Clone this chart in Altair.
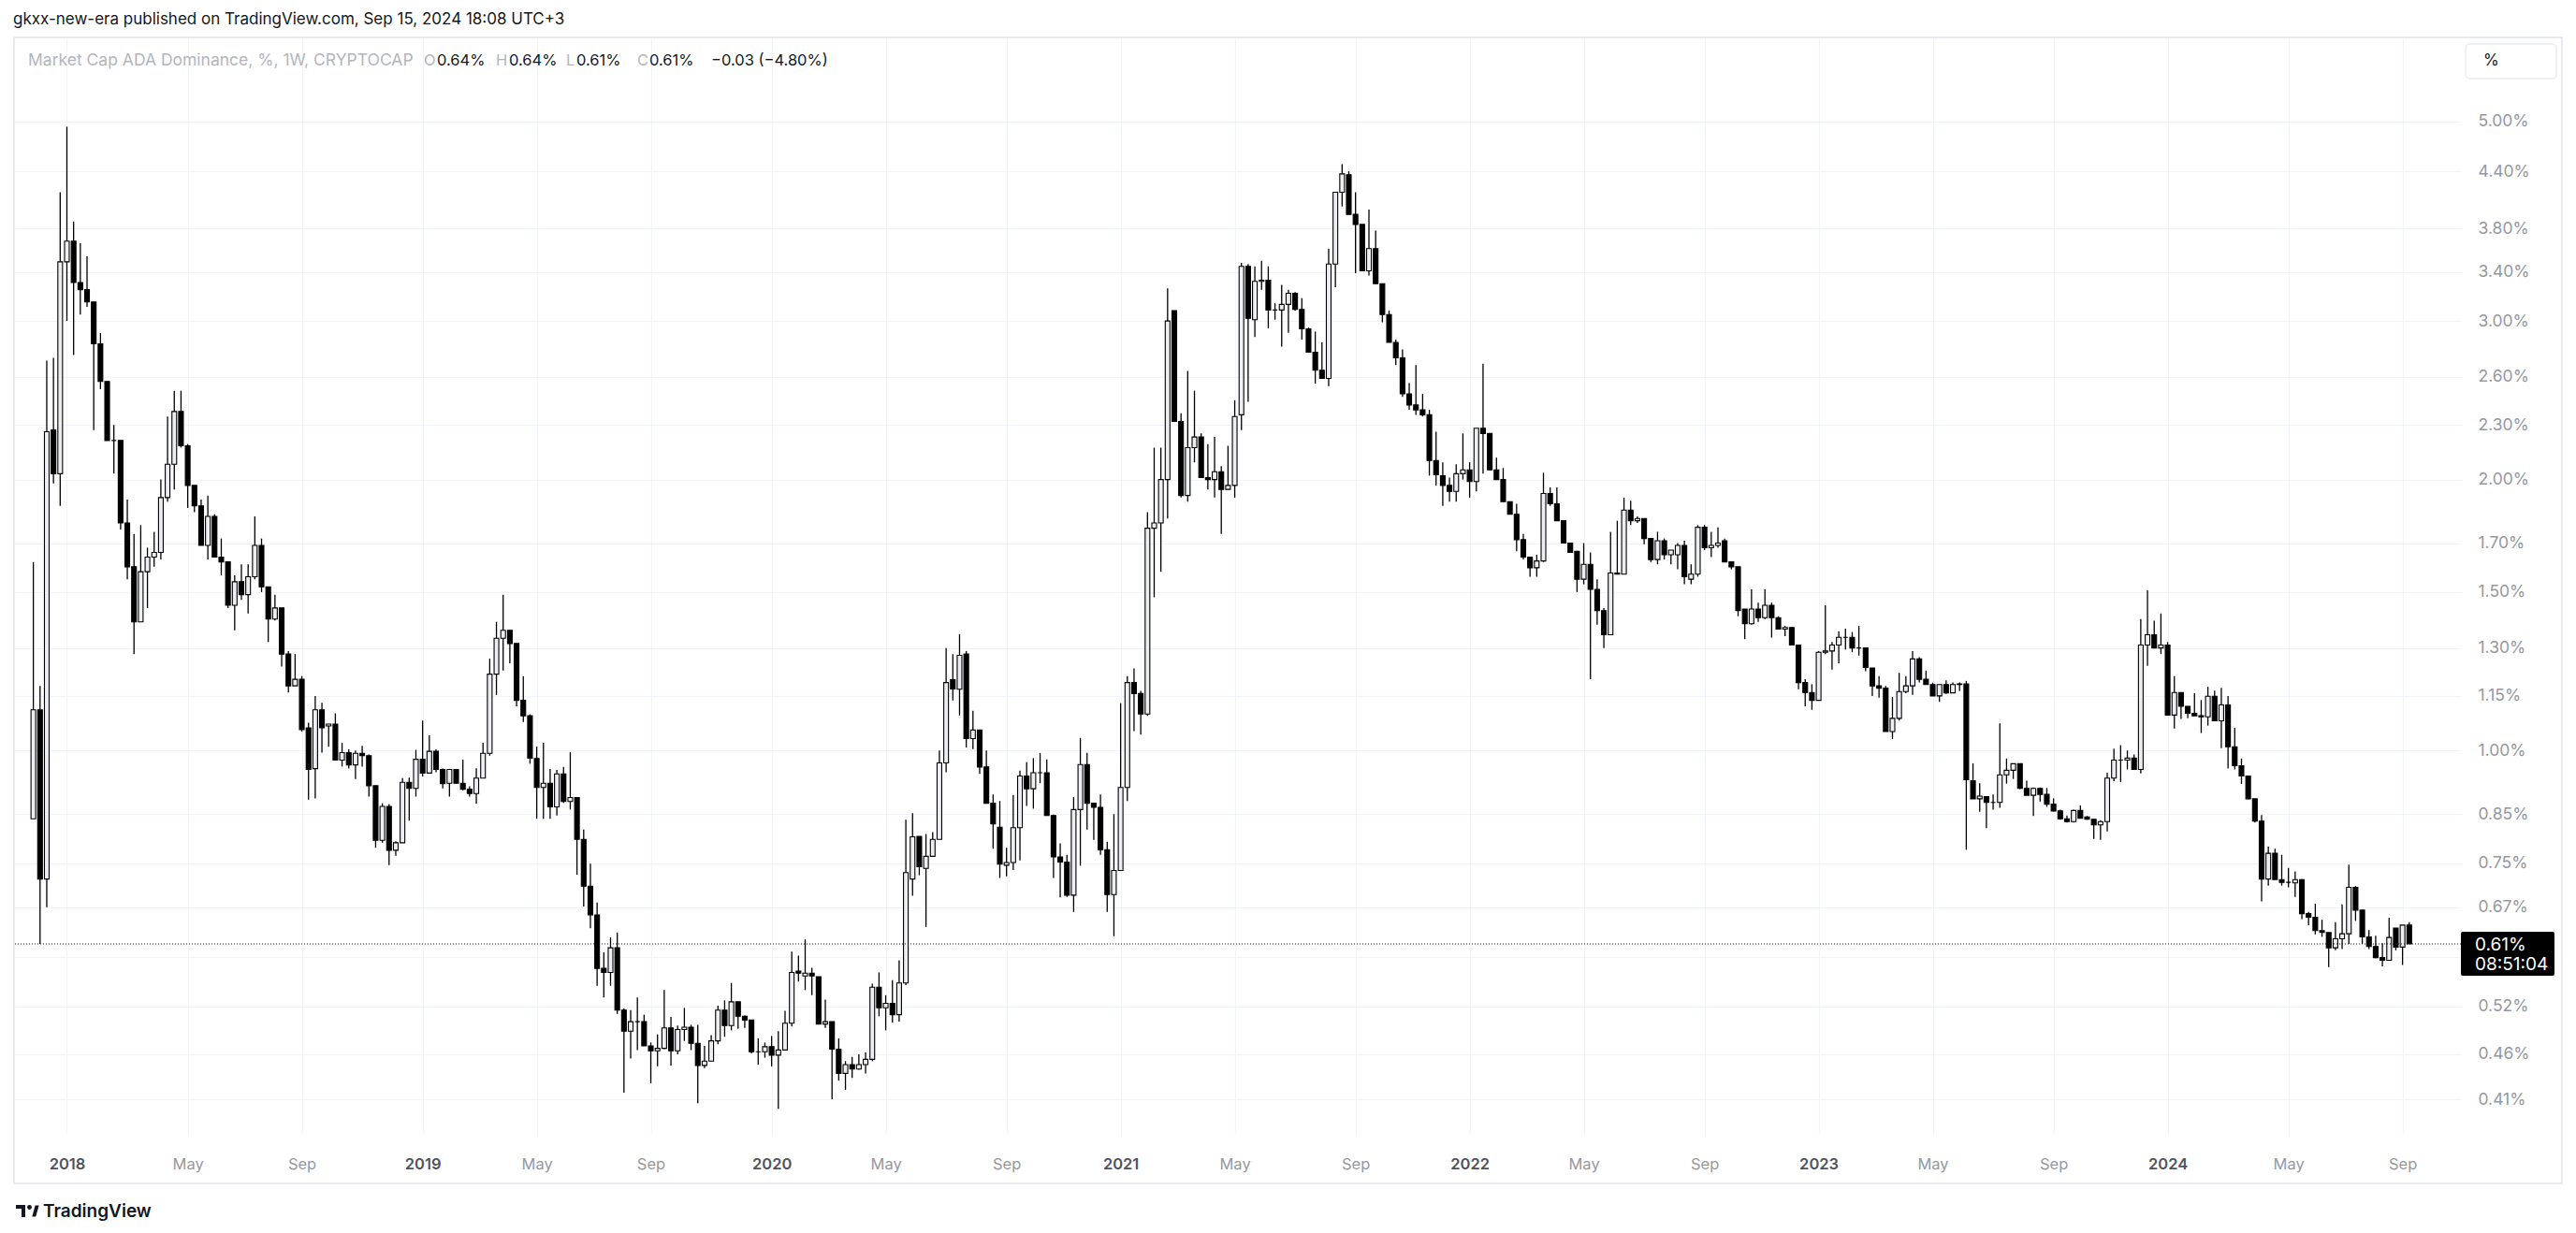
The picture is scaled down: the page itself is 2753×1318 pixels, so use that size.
import json
import altair as alt
import pandas as pd

# Weekly candles of "Market Cap ADA Dominance, %" (CRYPTOCAP), first week = 2017-11-27
OPEN = [
    0.84, 1.11, 0.72, 2.27, 2.03, 3.49, 3.68, 3.31, 3.25, 3.15,
    2.83, 2.57, 2.21, 2.21, 1.79, 1.60, 1.39, 1.58, 1.64, 1.66,
    1.91, 2.08, 2.38, 2.18, 1.97, 1.87, 1.69, 1.82, 1.64, 1.62,
    1.45, 1.54, 1.49, 1.56, 1.69, 1.52, 1.40, 1.44, 1.28, 1.18,
    1.20, 1.06, 0.955, 1.11, 1.065, 1.07, 0.976, 0.995, 0.964, 0.993,
    0.987, 0.914, 0.795, 0.867, 0.775, 0.79, 0.922, 0.908, 0.978, 0.944,
    0.998, 0.953, 0.92, 0.953, 0.92, 0.906, 0.896, 0.932, 0.993, 1.216,
    1.333, 1.36, 1.315, 1.137, 1.093, 0.98, 0.91, 0.92, 0.866, 0.942,
    0.878, 0.887, 0.797, 0.707, 0.657, 0.573, 0.567, 0.604, 0.515, 0.488,
    0.50, 0.50, 0.47, 0.464, 0.467, 0.492, 0.464, 0.49, 0.493, 0.473,
    0.447, 0.452, 0.476, 0.515, 0.495, 0.526, 0.507, 0.502, 0.463, 0.463,
    0.469, 0.459, 0.465, 0.498, 0.569, 0.562, 0.566, 0.561, 0.497, 0.50,
    0.466, 0.438, 0.448, 0.443, 0.448, 0.454, 0.546, 0.518, 0.524, 0.509,
    0.552, 0.72, 0.803, 0.74, 0.763, 0.797, 0.969, 1.199, 1.17, 1.28,
    1.031, 1.054, 0.959, 0.874, 0.822, 0.746, 0.751, 0.821, 0.937, 0.907,
    0.945, 0.945, 0.847, 0.762, 0.752, 0.691, 0.86, 0.965, 0.874, 0.865,
    0.776, 0.692, 0.736, 0.91, 1.19, 1.157, 1.098, 1.766, 1.79, 2.0,
    3.08, 2.32, 1.92, 2.17, 2.23, 2.01, 2.0, 2.04, 1.95, 1.97,
    2.36, 3.45, 3.01, 3.32, 3.33, 3.085, 3.085, 3.13, 3.22, 3.09,
    2.94, 2.77, 2.645, 2.59, 3.47, 4.17, 4.36, 3.94, 3.84, 3.41,
    3.61, 3.30, 3.05, 2.84, 2.73, 2.49, 2.42, 2.39, 2.36, 2.10,
    2.02, 1.97, 1.94, 2.03, 2.05, 1.99, 2.28, 2.25, 2.05, 2.0,
    1.89, 1.83, 1.715, 1.64, 1.596, 1.624, 1.93, 1.88, 1.80, 1.70,
    1.665, 1.55, 1.61, 1.51, 1.43, 1.345, 1.575, 1.57, 1.85, 1.80,
    1.81, 1.72, 1.63, 1.71, 1.65, 1.65, 1.69, 1.55, 1.57, 1.77,
    1.68, 1.69, 1.71, 1.62, 1.60, 1.436, 1.383, 1.436, 1.405, 1.45,
    1.405, 1.364, 1.37, 1.31, 1.19, 1.16, 1.137, 1.286, 1.29, 1.31,
    1.336, 1.336, 1.30, 1.30, 1.235, 1.18, 1.173, 1.05, 1.086, 1.163,
    1.18, 1.264, 1.20, 1.184, 1.15, 1.184, 1.159, 1.186, 1.186, 0.926,
    0.884, 0.889, 0.876, 0.876, 0.94, 0.951, 0.967, 0.908, 0.892, 0.908,
    0.894, 0.872, 0.857, 0.84, 0.834, 0.858, 0.844, 0.839, 0.827, 0.834,
    0.932, 0.976, 0.976, 0.981, 0.953, 1.31, 1.345, 1.30, 1.31, 1.095,
    1.16, 1.12, 1.10, 1.093, 1.09, 1.149, 1.079, 1.124, 1.01, 0.962,
    0.937, 0.884, 0.835, 0.72, 0.769, 0.719, 0.714, 0.713, 0.719, 0.659,
    0.653, 0.631, 0.628, 0.604, 0.618, 0.626, 0.705, 0.665, 0.621, 0.606,
    0.589, 0.585, 0.635, 0.605, 0.64,
]
HIGH = [
    1.62, 1.18, 2.71, 2.73, 4.17, 4.93, 3.87, 3.66, 3.54, 3.15,
    2.91, 2.57, 2.30, 2.21, 1.90, 1.74, 1.78, 1.68, 1.75, 2.00,
    2.35, 2.51, 2.51, 2.19, 1.97, 1.90, 1.92, 1.83, 1.72, 1.62,
    1.565, 1.61, 1.61, 1.82, 1.72, 1.52, 1.49, 1.44, 1.29, 1.28,
    1.21, 1.074, 1.15, 1.13, 1.07, 1.10, 1.02, 1.003, 1.0, 1.012,
    0.99, 0.914, 0.874, 0.872, 0.793, 0.932, 0.933, 1.002, 1.08, 1.04,
    1.003, 0.955, 0.953, 0.953, 0.977, 0.913, 0.956, 1.02, 1.265, 1.39,
    1.49, 1.36, 1.315, 1.21, 1.097, 1.01, 1.02, 0.954, 0.952, 0.959,
    0.996, 0.888, 0.817, 0.749, 0.678, 0.597, 0.62, 0.628, 0.517, 0.515,
    0.532, 0.509, 0.474, 0.484, 0.542, 0.506, 0.495, 0.518, 0.496, 0.496,
    0.47, 0.483, 0.521, 0.528, 0.552, 0.526, 0.508, 0.502, 0.479, 0.474,
    0.482, 0.488, 0.514, 0.598, 0.592, 0.617, 0.574, 0.561, 0.529, 0.50,
    0.479, 0.452, 0.457, 0.46, 0.462, 0.551, 0.567, 0.535, 0.556, 0.585,
    0.838, 0.852, 0.803, 0.808, 0.812, 1.0, 1.30, 1.28, 1.347, 1.29,
    1.107, 1.054, 1.0, 0.894, 0.879, 0.78, 0.893, 0.95, 0.971, 0.981,
    0.994, 0.978, 0.849, 0.789, 0.766, 0.888, 1.033, 0.994, 0.875, 0.894,
    0.792, 0.85, 1.129, 1.21, 1.234, 1.165, 1.84, 2.17, 2.17, 3.26,
    3.08, 2.37, 2.64, 2.51, 2.25, 2.19, 2.23, 2.07, 2.18, 2.45,
    3.48, 3.47, 3.45, 3.50, 3.45, 3.14, 3.29, 3.25, 3.23, 3.18,
    2.95, 2.92, 2.84, 3.61, 4.17, 4.48, 4.40, 4.17, 3.84, 3.99,
    3.78, 3.30, 3.08, 2.86, 2.79, 2.56, 2.68, 2.49, 2.39, 2.26,
    2.09, 2.01, 2.08, 2.25, 2.09, 2.28, 2.69, 2.25, 2.115, 2.06,
    1.89, 1.88, 1.74, 1.64, 1.65, 2.035, 1.96, 1.96, 1.80, 1.70,
    1.665, 1.70, 1.66, 1.55, 1.44, 1.75, 1.80, 1.91, 1.895, 1.82,
    1.81, 1.72, 1.75, 1.72, 1.67, 1.70, 1.71, 1.61, 1.78, 1.78,
    1.75, 1.77, 1.72, 1.62, 1.60, 1.436, 1.51, 1.46, 1.51, 1.46,
    1.41, 1.376, 1.37, 1.31, 1.20, 1.185, 1.29, 1.45, 1.32, 1.356,
    1.366, 1.354, 1.376, 1.30, 1.235, 1.21, 1.18, 1.147, 1.22, 1.21,
    1.29, 1.27, 1.227, 1.19, 1.184, 1.197, 1.19, 1.19, 1.195, 0.968,
    0.92, 0.89, 0.894, 1.072, 0.98, 0.967, 0.967, 0.926, 0.91, 0.91,
    0.909, 0.885, 0.86, 0.847, 0.86, 0.869, 0.846, 0.839, 0.837, 0.945,
    1.005, 1.014, 1.0, 0.99, 1.40, 1.507, 1.394, 1.42, 1.32, 1.21,
    1.16, 1.12, 1.158, 1.138, 1.177, 1.166, 1.174, 1.15, 1.06, 0.98,
    0.937, 0.884, 0.848, 0.782, 0.778, 0.766, 0.741, 0.734, 0.72, 0.662,
    0.676, 0.649, 0.628, 0.645, 0.675, 0.747, 0.707, 0.665, 0.632, 0.623,
    0.611, 0.652, 0.635, 0.64, 0.645,
]
LOW = [
    0.84, 0.61, 0.67, 1.98, 1.87, 3.00, 2.75, 3.05, 3.11, 2.27,
    2.52, 2.21, 2.03, 1.76, 1.55, 1.28, 1.39, 1.44, 1.60, 1.63,
    1.89, 1.95, 2.17, 1.86, 1.84, 1.69, 1.63, 1.64, 1.565, 1.44,
    1.36, 1.47, 1.42, 1.55, 1.50, 1.32, 1.395, 1.24, 1.16, 1.18,
    1.05, 0.882, 0.885, 0.995, 1.01, 0.975, 0.96, 0.955, 0.93, 0.96,
    0.889, 0.78, 0.79, 0.746, 0.764, 0.79, 0.836, 0.889, 0.936, 0.944,
    0.946, 0.908, 0.889, 0.919, 0.903, 0.889, 0.873, 0.932, 0.987, 1.153,
    1.227, 1.25, 1.12, 1.076, 0.967, 0.84, 0.84, 0.84, 0.847, 0.875,
    0.86, 0.728, 0.671, 0.635, 0.548, 0.532, 0.548, 0.51, 0.417, 0.455,
    0.465, 0.47, 0.427, 0.446, 0.466, 0.447, 0.46, 0.476, 0.465, 0.406,
    0.444, 0.452, 0.472, 0.481, 0.489, 0.491, 0.492, 0.461, 0.448, 0.456,
    0.446, 0.40, 0.465, 0.494, 0.554, 0.542, 0.535, 0.497, 0.492, 0.41,
    0.43, 0.42, 0.433, 0.442, 0.438, 0.452, 0.507, 0.489, 0.499, 0.50,
    0.549, 0.69, 0.727, 0.637, 0.763, 0.797, 0.946, 1.137, 1.094, 1.008,
    1.004, 0.942, 0.874, 0.778, 0.722, 0.725, 0.737, 0.755, 0.868, 0.862,
    0.92, 0.847, 0.722, 0.687, 0.688, 0.662, 0.745, 0.817, 0.796, 0.766,
    0.662, 0.622, 0.735, 0.879, 1.051, 1.042, 1.093, 1.48, 1.58, 1.81,
    2.32, 1.91, 1.89, 2.09, 2.01, 1.95, 1.91, 1.74, 1.95, 1.91,
    2.27, 2.44, 2.88, 3.25, 2.945, 3.01, 2.81, 2.91, 3.08, 2.86,
    2.77, 2.555, 2.59, 2.54, 3.27, 4.02, 3.94, 3.39, 3.41, 3.37,
    3.30, 2.99, 2.84, 2.68, 2.47, 2.39, 2.36, 2.35, 2.02, 1.97,
    1.87, 1.89, 1.89, 2.0, 1.91, 1.94, 2.03, 2.05, 2.0, 1.89,
    1.83, 1.665, 1.63, 1.56, 1.56, 1.62, 1.87, 1.80, 1.70, 1.66,
    1.50, 1.53, 1.20, 1.38, 1.30, 1.345, 1.57, 1.57, 1.78, 1.79,
    1.695, 1.62, 1.61, 1.63, 1.61, 1.59, 1.53, 1.53, 1.56, 1.67,
    1.64, 1.68, 1.62, 1.59, 1.41, 1.33, 1.38, 1.39, 1.40, 1.335,
    1.364, 1.34, 1.31, 1.17, 1.12, 1.11, 1.137, 1.28, 1.23, 1.25,
    1.295, 1.286, 1.275, 1.225, 1.15, 1.145, 1.05, 1.03, 1.08, 1.158,
    1.153, 1.19, 1.184, 1.15, 1.133, 1.156, 1.159, 1.165, 0.776, 0.884,
    0.855, 0.82, 0.86, 0.864, 0.919, 0.93, 0.906, 0.892, 0.846, 0.878,
    0.866, 0.856, 0.838, 0.832, 0.832, 0.841, 0.838, 0.798, 0.796, 0.813,
    0.925, 0.923, 0.953, 0.953, 0.943, 1.242, 1.30, 1.28, 1.095, 1.058,
    1.084, 1.086, 1.093, 1.046, 1.066, 1.079, 1.006, 0.955, 0.953, 0.918,
    0.883, 0.832, 0.68, 0.708, 0.719, 0.708, 0.705, 0.688, 0.65, 0.64,
    0.625, 0.621, 0.575, 0.60, 0.602, 0.61, 0.647, 0.61, 0.602, 0.588,
    0.576, 0.585, 0.60, 0.578, 0.61,
]
CLOSE = [
    1.11, 0.72, 2.26, 2.03, 3.49, 3.68, 3.31, 3.25, 3.15, 2.83,
    2.57, 2.21, 2.21, 1.79, 1.60, 1.39, 1.58, 1.64, 1.66, 1.91,
    2.08, 2.38, 2.18, 1.97, 1.87, 1.69, 1.82, 1.64, 1.62, 1.45,
    1.54, 1.49, 1.56, 1.69, 1.52, 1.40, 1.44, 1.28, 1.18, 1.20,
    1.055, 0.953, 1.11, 1.06, 1.07, 0.976, 0.995, 0.964, 0.993, 0.987,
    0.914, 0.795, 0.867, 0.775, 0.79, 0.922, 0.908, 0.978, 0.944, 0.998,
    0.953, 0.919, 0.953, 0.92, 0.906, 0.896, 0.932, 0.993, 1.216, 1.333,
    1.36, 1.315, 1.137, 1.093, 0.981, 0.91, 0.92, 0.866, 0.942, 0.878,
    0.887, 0.797, 0.707, 0.657, 0.573, 0.567, 0.604, 0.515, 0.488, 0.50,
    0.50, 0.47, 0.464, 0.467, 0.492, 0.464, 0.49, 0.493, 0.473, 0.447,
    0.452, 0.476, 0.515, 0.495, 0.526, 0.507, 0.502, 0.463, 0.463, 0.469,
    0.459, 0.465, 0.498, 0.567, 0.566, 0.566, 0.562, 0.497, 0.50, 0.466,
    0.438, 0.448, 0.443, 0.448, 0.454, 0.546, 0.518, 0.524, 0.509, 0.552,
    0.732, 0.802, 0.743, 0.763, 0.797, 0.969, 1.19, 1.171, 1.276, 1.031,
    1.054, 0.959, 0.874, 0.829, 0.748, 0.751, 0.821, 0.937, 0.907, 0.945,
    0.945, 0.847, 0.762, 0.752, 0.691, 0.86, 0.965, 0.874, 0.865, 0.776,
    0.692, 0.736, 0.91, 1.19, 1.157, 1.098, 1.766, 1.79, 2.0, 3.0,
    2.32, 1.92, 2.17, 2.23, 2.01, 2.0, 2.04, 1.95, 1.97, 2.35,
    3.45, 3.02, 3.32, 3.33, 3.085, 3.085, 3.13, 3.22, 3.09, 2.94,
    2.77, 2.645, 2.59, 3.47, 4.17, 4.37, 3.94, 3.84, 3.41, 3.61,
    3.30, 3.05, 2.84, 2.73, 2.49, 2.42, 2.39, 2.36, 2.10, 2.025,
    1.97, 1.94, 2.03, 2.05, 1.99, 2.28, 2.25, 2.05, 2.0, 1.89,
    1.83, 1.715, 1.64, 1.596, 1.624, 1.93, 1.88, 1.80, 1.70, 1.66,
    1.55, 1.61, 1.51, 1.43, 1.345, 1.575, 1.57, 1.85, 1.80, 1.81,
    1.72, 1.63, 1.71, 1.65, 1.67, 1.69, 1.56, 1.57, 1.77, 1.68,
    1.69, 1.70, 1.62, 1.60, 1.43, 1.383, 1.436, 1.405, 1.45, 1.405,
    1.364, 1.37, 1.31, 1.19, 1.16, 1.137, 1.286, 1.29, 1.31, 1.336,
    1.336, 1.30, 1.30, 1.237, 1.18, 1.173, 1.05, 1.086, 1.163, 1.18,
    1.264, 1.20, 1.184, 1.15, 1.184, 1.159, 1.184, 1.184, 0.928, 0.884,
    0.89, 0.876, 0.876, 0.94, 0.951, 0.967, 0.908, 0.892, 0.908, 0.894,
    0.872, 0.857, 0.84, 0.834, 0.858, 0.841, 0.839, 0.827, 0.834, 0.932,
    0.976, 0.976, 0.981, 0.953, 1.31, 1.345, 1.30, 1.31, 1.095, 1.16,
    1.12, 1.10, 1.093, 1.09, 1.149, 1.079, 1.124, 1.01, 0.962, 0.937,
    0.884, 0.835, 0.72, 0.769, 0.719, 0.714, 0.714, 0.719, 0.659, 0.653,
    0.631, 0.628, 0.604, 0.618, 0.626, 0.705, 0.665, 0.621, 0.606, 0.589,
    0.585, 0.62, 0.605, 0.64, 0.61,
]

# Time-axis ticks: week number (from 2017-11-27) of the first bar of each labelled month
X_TICK_WEEKS = [5, 23, 40, 58, 75, 92, 110, 127, 145, 162, 179, 197, 214, 231, 249, 266, 283, 301, 318, 336, 353]
X_TICK_LABELS = ["2018", "May", "Sep", "2019", "May", "Sep", "2020", "May", "Sep", "2021", "May", "Sep",
                 "2022", "May", "Sep", "2023", "May", "Sep", "2024", "May", "Sep"]
Y_TICKS = [5.00, 4.40, 3.80, 3.40, 3.00, 2.60, 2.30, 2.00, 1.70, 1.50, 1.30, 1.15, 1.00,
           0.85, 0.75, 0.67, 0.59, 0.52, 0.46, 0.41]
HIDDEN_Y_TICK = 0.59
LAST_PRICE = 0.61

TITLE = "gkxx-new-era published on TradingView.com, Sep 15, 2024 18:08 UTC+3"
LEGEND_NAME = "Market Cap ADA Dominance, %, 1W, CRYPTOCAP"
LEGEND_PARTS = [("O", "0.64%"), ("H", "0.64%"), ("L", "0.61%"), ("C", "0.61%")]
LEGEND_CHANGE = "\u22120.03 (\u22124.80%)"
COUNTDOWN = "08:51:04"

FONT = "Inter"
DARK = "#131722"
GRAY = "#9598a1"
LIGHT = "#b2b5be"
GRID = "#f0f3fa"
UP_FILL = "#eceef2"

df = pd.DataFrame({"week": list(range(len(CLOSE))), "open": OPEN, "high": HIGH, "low": LOW, "close": CLOSE})
df["up"] = df["close"] >= df["open"]

W, H = 2614, 1171
xs = alt.Scale(domain=[-2.04, 361.0], nice=False, zero=False)
ys = alt.Scale(type="log", domain=[0.3753, 6.18], nice=False, zero=False)

year_weeks = [w for w, l in zip(X_TICK_WEEKS, X_TICK_LABELS) if l.isdigit()]
year_test = f"indexof({json.dumps(year_weeks)}, datum.value) >= 0"
x_axis = alt.Axis(
    values=X_TICK_WEEKS,
    labelExpr=f"{json.dumps(X_TICK_LABELS)}[indexof({json.dumps(X_TICK_WEEKS)}, datum.value)]",
    grid=True, gridColor=GRID, gridWidth=1, domain=False, ticks=False,
    labelFont=FONT, labelFontSize=16.5, labelPadding=24,
    labelFontWeight={"condition": {"test": year_test, "value": 600}, "value": "normal"},
    labelColor={"condition": {"test": year_test, "value": "#50535e"}, "value": GRAY},
    title=None,
)
y_axis = alt.Axis(
    orient="right", values=Y_TICKS,
    labelExpr=f"datum.value == {HIDDEN_Y_TICK} ? '' : format(datum.value, '.2f') + '%'",
    grid=True, gridColor=GRID, gridWidth=1, domain=False, ticks=False,
    labelFont=FONT, labelFontSize=17.5, labelPadding=18, labelColor=GRAY, labelAlign="left",
    title=None,
)

base = alt.Chart(df)
wicks = base.mark_rule(color="#000000", strokeWidth=1.3).encode(
    x=alt.X("week:Q", scale=xs, axis=x_axis),
    y=alt.Y("low:Q", scale=ys, axis=y_axis),
    y2="high:Q",
)
bodies = base.mark_bar(size=5, stroke="#000000", strokeWidth=1.1).encode(
    x=alt.X("week:Q", scale=xs),
    y=alt.Y("open:Q", scale=ys),
    y2="close:Q",
    fill=alt.condition("datum.up", alt.value(UP_FILL), alt.value("#000000")),
)
last_line = alt.Chart(alt.Data(values=[{"p": LAST_PRICE}])).mark_rule(
    color=DARK, strokeWidth=1, strokeDash=[1, 2]
).encode(y=alt.Y("p:Q", scale=ys))

one = alt.Data(values=[{}])


def text(s, x, y, size=17, color=DARK, weight="normal", align="left"):
    return alt.Chart(one).mark_text(
        text=s, font=FONT, fontSize=size, color=color, fontWeight=weight, align=align, baseline="middle"
    ).encode(x=alt.value(x), y=alt.value(y))


def rect(x1, x2, y1, y2, fill, stroke=None, radius=0):
    kw = dict(fill=fill, cornerRadius=radius)
    if stroke:
        kw.update(stroke=stroke, strokeWidth=1)
    return alt.Chart(one).mark_rect(**kw).encode(
        x=alt.value(x1), x2=alt.value(x2), y=alt.value(y1), y2=alt.value(y2)
    )


frame = alt.Chart(one).mark_rect(fill="transparent", stroke="#e0e3eb", strokeWidth=1.5).encode(
    x=alt.value(-1), x2=alt.value(2722), y=alt.value(-1), y2=alt.value(1224)
)

layers = [frame, wicks, bodies, last_line]

# legend row
layers.append(text(LEGEND_NAME, 14, 24, size=17.5, color=LIGHT))
VAL = 16.5
legend_x = [(437, 451), (514, 528), (589, 600), (665, 678)]
for (lab, val), (xl, xv) in zip(LEGEND_PARTS, legend_x):
    layers.append(text(lab, xl, 24, size=VAL, color=LIGHT))
    layers.append(text(val, xv, 24, size=VAL, color=DARK))
layers.append(text(LEGEND_CHANGE, 744, 24, size=VAL, color=DARK))

# title
layers.append(text(TITLE, -2, -20, size=17, color=DARK))

# "%" button
layers.append(rect(2619, 2716, 6, 43, "#ffffff", stroke="#e0e3eb", radius=4))
layers.append(text("%", 2638, 24, size=17, color=DARK))

# last price label
layers.append(rect(2614, 2714, 955, 1002, "#000000", radius=2))
layers.append(text(f"{LAST_PRICE:.2f}%", 2629, 969, size=19, color="#ffffff"))
layers.append(text(COUNTDOWN, 2629, 990, size=19, color="#ffffff"))

# TradingView logo + wordmark
layers.append(rect(1, 11, 1247, 1251, DARK))
layers.append(rect(7, 11, 1247, 1260, DARK))
layers.append(alt.Chart(one).mark_point(shape="circle", filled=True, size=24, color=DARK, opacity=1).encode(
    x=alt.value(15.5), y=alt.value(1249.5)))
layers.append(alt.Chart(one).mark_point(shape="M -0.2 1 L 0.35 -1 L 1 -1 L 0.45 1 Z", filled=True, size=150,
                                        color=DARK, opacity=1).encode(x=alt.value(19.5), y=alt.value(1253.5)))
layers.append(text("TradingView", 30, 1254, size=19, color=DARK, weight=600))

chart = alt.layer(*layers).properties(
    width=W, height=H,
    autosize=alt.AutoSizeParams(type="none"),
    padding={"left": 8, "top": 33, "right": 115, "bottom": 98},
    background="#ffffff",
).configure_view(stroke=None)

chart.save("out.html", embed_options={"renderer": "svg", "actions": False})
